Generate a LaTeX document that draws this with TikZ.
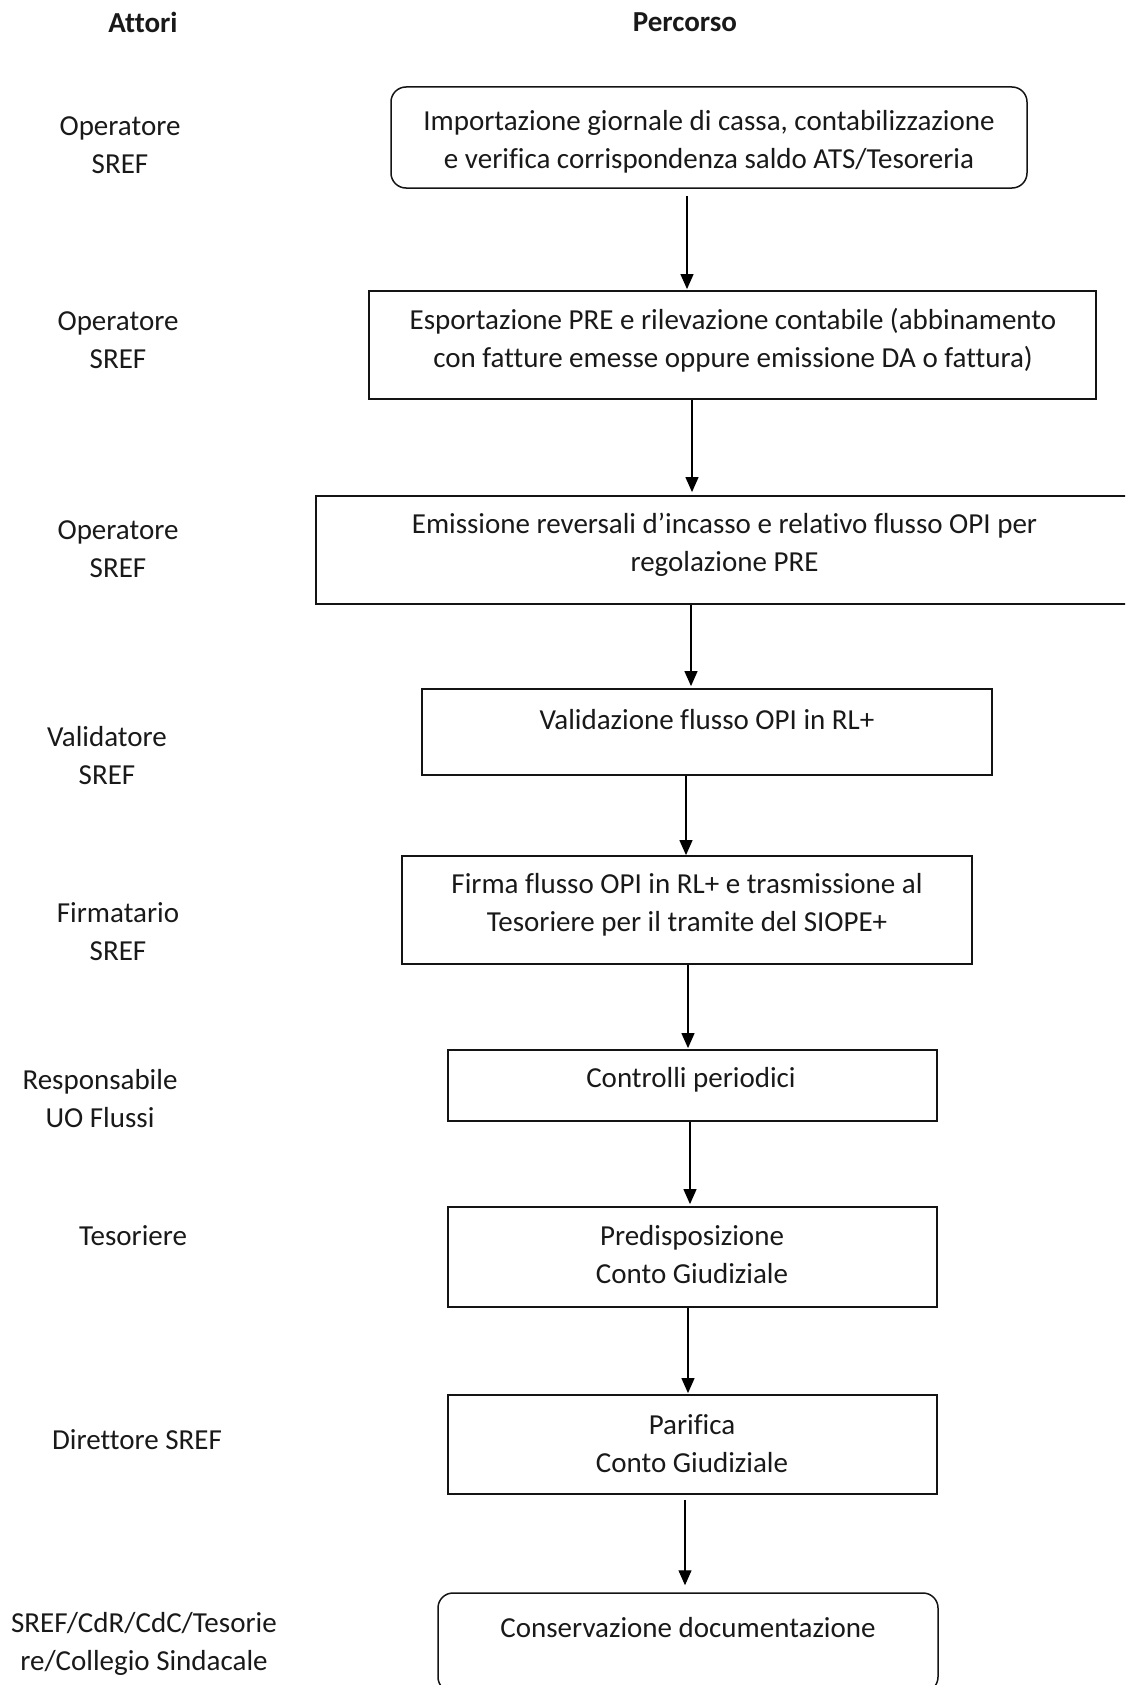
\documentclass[tikz,border=0pt]{standalone}
\usepackage{fontspec}
\setmainfont{Carlito}[Ligatures=CommonOff]
\usetikzlibrary{arrows.meta}
\begin{document}
\begin{tikzpicture}[x=1bp,y=-1bp,
  txt/.style={font=\fontsize{29bp}{38bp}\selectfont, text=black!90, inner sep=0pt, align=center},
  head/.style={txt, font=\fontsize{29bp}{38bp}\selectfont\bfseries},
  stepbox/.style={draw=black!92, line width=1.8bp, inner sep=0pt},
  termbox/.style={draw=black!92, line width=1.5bp, rounded corners=15bp, inner sep=0pt},
  arr/.style={draw=black, line width=1.2bp, -{Triangle[length=15bp,width=13bp]}}]

\useasboundingbox (0,0) rectangle (1125,1685);
\clip (0,0) rectangle (1125,1685);

% column headings
\node[head] (hA) at (143,22) {Attori};
\node[head] (hP) at (685,22) {Percorso};

% actors
\node[txt] (a1) at (120,145)  {Operatore\\SREF};
\node[txt] (a2) at (118,340)  {Operatore\\SREF};
\node[txt] (a3) at (118,549)  {Operatore\\SREF};
\node[txt] (a4) at (107,756)  {Validatore\\SREF};
\node[txt] (a5) at (118,932)  {Firmatario\\SREF};
\node[txt] (a6) at (100,1099) {Responsabile\\UO Flussi};
\node[txt] (a7) at (133,1236) {Tesoriere};
\node[txt] (a8) at (137,1440) {Direttore SREF};
\node[txt] (a9) at (144,1644) {SREF/CdR/CdC/Tesorie\\re/Collegio Sindacale};

% process boxes
\node[termbox, minimum width=636bp, minimum height=101bp] (b1) at (709,137.5) {};
\node[stepbox, minimum width=727bp, minimum height=108bp] (b2) at (732.5,345) {};
\node[stepbox, minimum width=818bp, minimum height=108bp] (b3) at (725,550) {};
\node[stepbox, minimum width=570bp, minimum height=86bp]  (b4) at (707,732) {};
\node[stepbox, minimum width=570bp, minimum height=108bp] (b5) at (687,910) {};
\node[stepbox, minimum width=489bp, minimum height=71bp]  (b6) at (692.5,1085.5) {};
\node[stepbox, minimum width=489bp, minimum height=100bp] (b7) at (692.5,1257) {};
\node[stepbox, minimum width=489bp, minimum height=99bp]  (b8) at (692.5,1444.5) {};
\node[termbox, minimum width=500bp, minimum height=99bp]  (b9) at (688,1642.5) {};

% box texts
\node[txt] (t1) at (709,142)  {Importazione giornale di cassa, contabilizzazione\\e verifica corrispondenza saldo ATS/Tesoreria};
\node[txt] (t2) at (733,340)  {Esportazione PRE e rilevazione contabile (abbinamento\\con fatture emesse oppure emissione DA o fattura)};
\node[txt] (t3) at (724.5,545) {Emissione reversali d’incasso e relativo flusso OPI per\\regolazione PRE};
\node[txt] (t4) at (707,720)  {Validazione flusso OPI in RL+};
\node[txt] (t5) at (687,905)  {Firma flusso OPI in RL+ e trasmissione al\\Tesoriere per il tramite del SIOPE+};
\node[txt] (t6) at (691,1080) {Controlli periodici};
\node[txt] (t7) at (692,1255) {Predisposizione\\Conto Giudiziale};
\node[txt] (t8) at (692,1443.5) {Parifica\\Conto Giudiziale};
\node[txt] (t9) at (688,1628) {Conservazione documentazione};

% arrow columns
\coordinate (k1) at (687,0);
\coordinate (k2) at (692,0);
\coordinate (k3) at (691,0);
\coordinate (k4) at (686,0);
\coordinate (k5) at (688,0);
\coordinate (k6) at (690,0);
\coordinate (k7) at (688,0);
\coordinate (k8) at (685,0);

% connectors
\draw[arr, shorten <=7bp, shorten >=1bp] (b1.south -| k1) -- (b2.north -| k1);
\draw[arr, shorten >=3bp] (b2.south -| k2) -- (b3.north -| k2);
\draw[arr, shorten >=2bp] (b3.south -| k3) -- (b4.north -| k3);
\draw[arr] (b4.south -| k4) -- (b5.north -| k4);
\draw[arr, shorten >=1bp] (b5.south -| k5) -- (b6.north -| k5);
\draw[arr, shorten >=2bp] (b6.south -| k6) -- (b7.north -| k6);
\draw[arr, shorten >=1bp] (b7.south -| k7) -- (b8.north -| k7);
\draw[arr, shorten <=5bp, shorten >=7bp] (b8.south -| k8) -- (b9.north -| k8);
\end{tikzpicture}
\end{document}
